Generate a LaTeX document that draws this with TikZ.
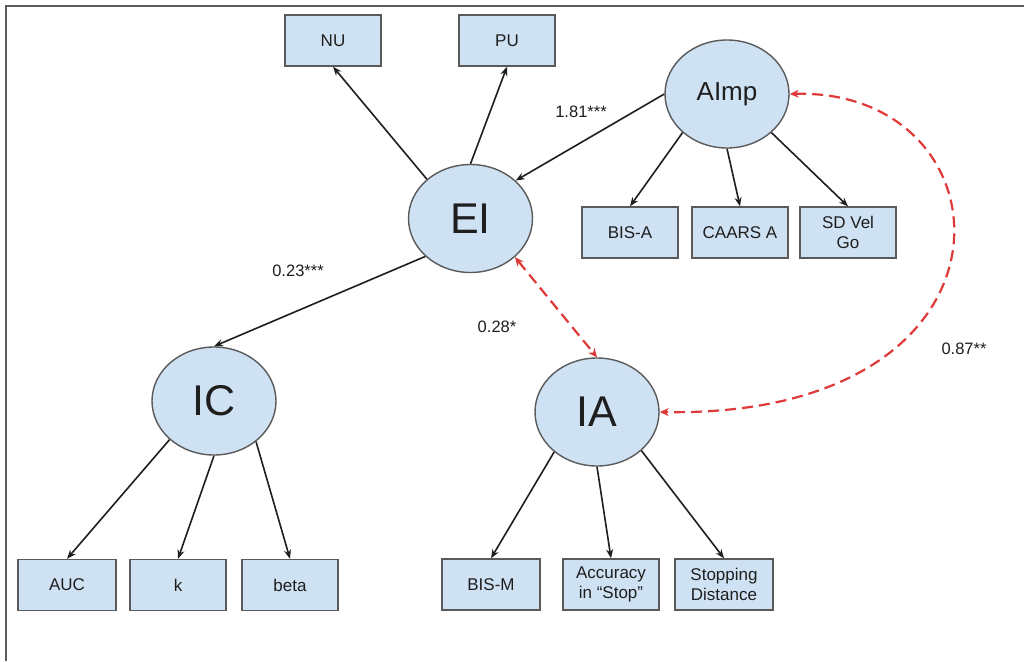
\documentclass[tikz,border=0pt]{standalone}
\usepackage{fontspec}
\setmainfont{Liberation Sans}
\usetikzlibrary{arrows.meta,shapes.geometric}
\definecolor{boxfill}{HTML}{CFE2F3}
\definecolor{edgegray}{HTML}{5A5A5A}
\definecolor{covred}{HTML}{DF3A3A}
\definecolor{txt}{HTML}{1E1E1E}
\begin{document}
\begin{tikzpicture}[x=1pt,y=-1pt,
  obs/.style={draw=edgegray, line width=1.4pt, fill=boxfill, minimum width=96pt, minimum height=51pt,
    font=\fontsize{17}{20}\selectfont, align=center, inner sep=2pt, text=txt},
  lat/.style={ellipse, draw=edgegray, line width=1.4pt, fill=boxfill, minimum width=124pt,
    minimum height=108pt, inner sep=0pt, text=txt},
  bigtext/.style={font=\fontsize{43}{46}\selectfont},
  arr/.style={-{Stealth[length=9pt,width=7pt]}, line width=1.6pt, draw=txt},
  cov/.style={{Stealth[length=9pt,width=8pt]}-{Stealth[length=9pt,width=8pt]}, draw=covred,
    line width=2.2pt, dash pattern=on 11pt off 6pt},
  lbl/.style={font=\fontsize{16.5}{19}\selectfont, text=txt}
]
\useasboundingbox (0,0) rectangle (1024,661);
\fill[white] (0,0) rectangle (1024,661);
\draw[edgegray, line width=1.6pt] (6,661) -- (6,6) -- (1024,6);

% nodes
\node[obs] (NU) at (333,40.5) {NU};
\node[obs] (PU) at (507,40.5) {PU};
\node[lat, font=\fontsize{26}{30}\selectfont] (AImp) at (727,94) {AImp};
\node[lat, bigtext] (EI) at (470.5,218.5) {EI};
\node[obs] (BISA) at (630,232.5) {BIS-A};
\node[obs] (CAARS) at (740,232.5) {CAARS A};
\node[obs] (SD) at (848,232.5) {SD Vel\\Go};
\node[lat, bigtext] (IC) at (214,401) {IC};
\node[lat, bigtext] (IA) at (597,412) {IA};
\node[obs, minimum width=98pt] (AUC) at (67,585) {AUC};
\node[obs] (k) at (178,585) {k};
\node[obs] (beta) at (290,585) {beta};
\node[obs, minimum width=98pt] (BISM) at (491,584.5) {BIS-M};
\node[obs] (Acc) at (611,584.5) {Accuracy\\in “Stop”};
\node[obs, minimum width=98pt] (Stop) at (724,584.5) {Stopping\\Distance};

% loadings and paths
\draw[arr] (EI.138) -- (NU.south);
\draw[arr] (EI.north) -- (PU.south);
\draw[arr] (AImp.west) -- (EI.40);
\draw[arr] (AImp.221) -- (BISA.north);
\draw[arr] (AImp.south) -- (CAARS.north);
\draw[arr] (AImp.319) -- (SD.north);
\draw[arr] (EI.220) -- (IC.north);
\draw[arr] (IC.221) -- (AUC.north);
\draw[arr] (IC.south) -- (k.north);
\draw[arr] (IC.316) -- (beta.north);
\draw[arr] (IA.223) -- (BISM.north);
\draw[arr] (IA.south) -- (Acc.north);
\draw[arr] (IA.319) -- (Stop.north);

% covariances
\draw[cov] (EI.319) -- (IA.north);
\draw[cov] (AImp.east) .. controls (1015,88) and (1038,418) .. (IA.east);

% labels
\node[lbl] (l181) at (581,112) {1.81***};
\node[lbl] (l023) at (298,271) {0.23***};
\node[lbl] (l028) at (497,327) {0.28*};
\node[lbl] (l087) at (964,349) {0.87**};
\end{tikzpicture}
\end{document}
